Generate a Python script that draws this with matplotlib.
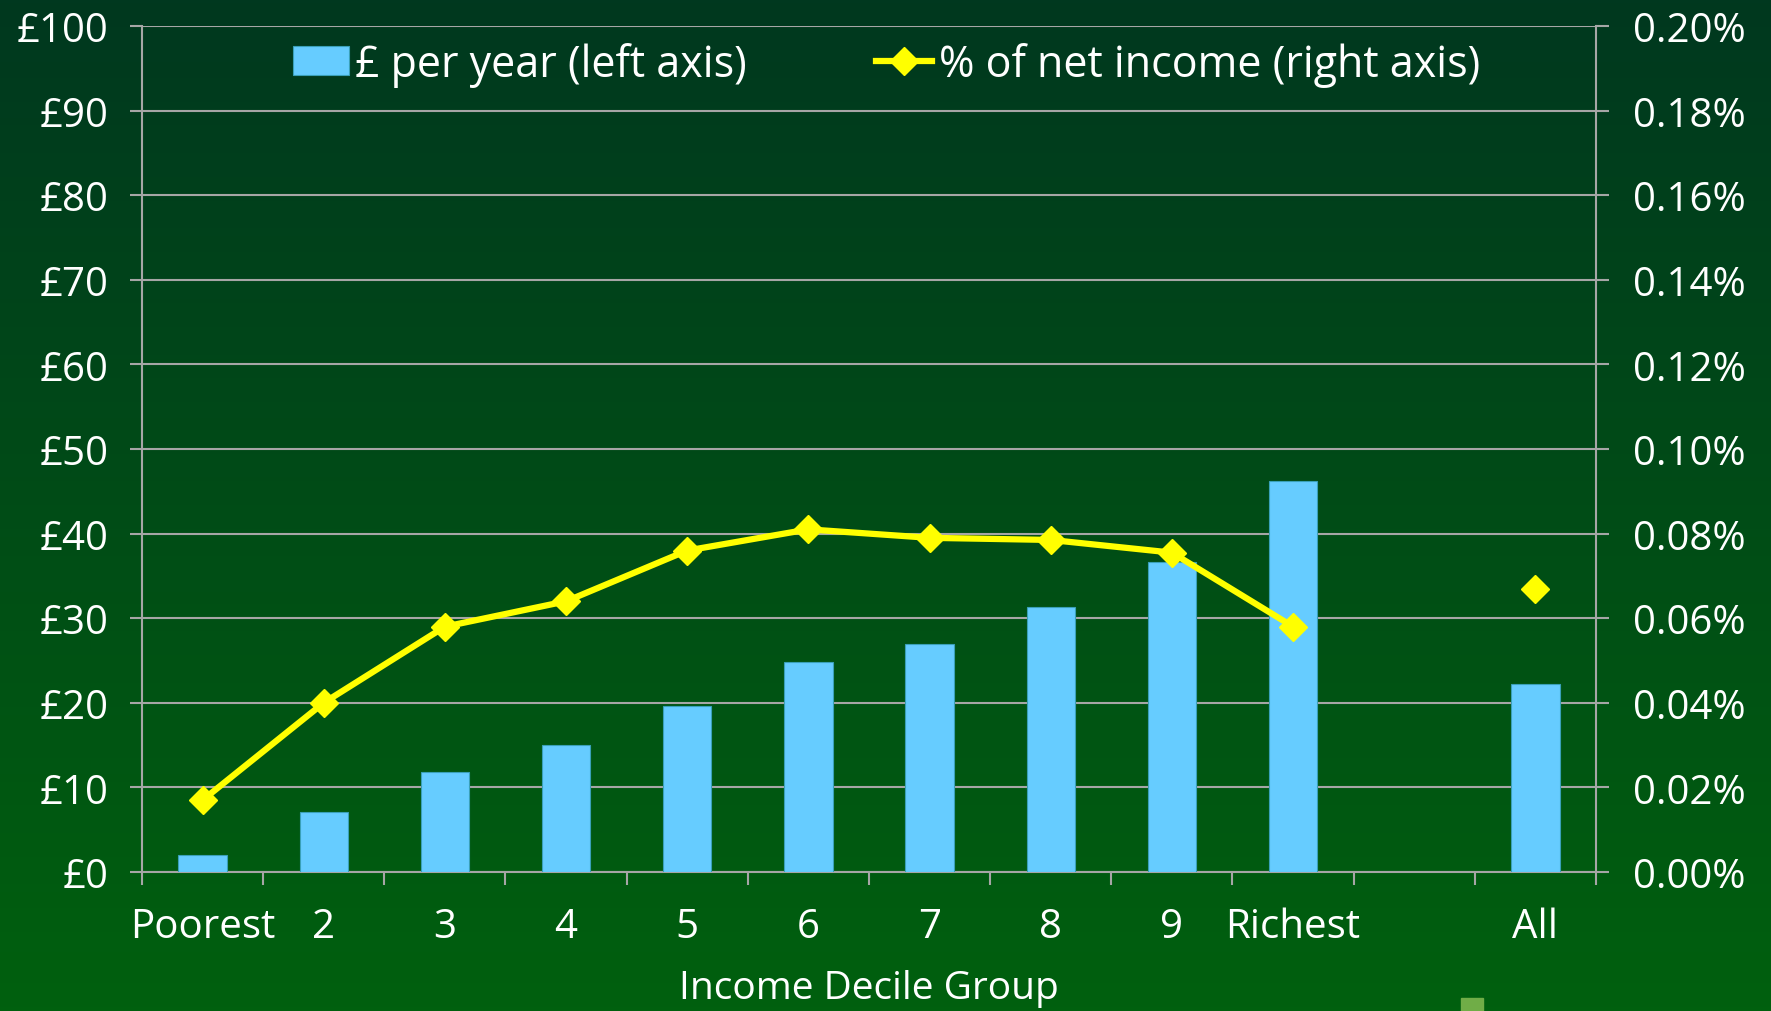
import numpy as np
import matplotlib.pyplot as plt
from matplotlib.patches import Rectangle

plt.rcParams['font.family'] = ['Open Sans', 'DejaVu Sans']

# data
groups = ['Poorest', '2', '3', '4', '5', '6', '7', '8', '9', 'Richest', '', 'All']
per_year = [2.0, 7.1, 11.8, 15.0, 19.6, 24.8, 27.0, 31.3, 36.7, 46.2, np.nan, 22.2]   # £ per year
pct_income = [0.017, 0.040, 0.058, 0.064, 0.076, 0.081, 0.079, 0.0785, 0.0755, 0.058, np.nan, 0.067]  # % of net income

left_ticks = list(range(0, 101, 10))
left_labels = ['£%d' % v for v in left_ticks]
right_ticks = [i * 0.02 for i in range(11)]
right_labels = ['%.2f%%' % v for v in right_ticks]

W, H = 1771, 1012
fig = plt.figure(figsize=(W / 100, H / 100), dpi=100)

# background gradient
bg = fig.add_axes([0, 0, 1, 1], zorder=-10)
top = np.array([0, 56, 31]) / 255
bot = np.array([0, 96, 14]) / 255
t = np.linspace(0, 1, 256)[:, None]
grad = top[None, :] * (1 - t) + bot[None, :] * t
bg.imshow(grad[:, None, :], aspect='auto', extent=[0, 1, 0, 1])
bg.axis('off')
fig.patches.append(Rectangle((1461 / W, 0), 22 / W, 13 / H, transform=fig.transFigure,
                             color='#70AD47', zorder=5))

grid_col = '#a6a6a6'
txt = 'white'
fs = 29

ax = fig.add_axes([142 / W, 1 - 873 / H, (1596 - 142) / W, (873 - 27) / H])
ax.patch.set_alpha(0)
x = np.arange(len(groups))
bars = ax.bar(x, per_year, width=0.4, color='#66CCFF', edgecolor='#3aa0b8', linewidth=0.8,
              zorder=3, label='£ per year (left axis)')
ax.set_ylim(0, 100)
ax.set_xlim(-0.5, len(groups) - 0.5)
ax.set_yticks(left_ticks)
ax.set_yticklabels(left_labels)
ax.yaxis.grid(True, color=grid_col, linewidth=1.5, zorder=0)
ax.set_axisbelow(True)
ax.set_xticks(x)
ax.set_xticklabels(groups)
ax.set_xticks(np.arange(-0.5, len(groups)), minor=True)
ax.tick_params(axis='x', which='major', length=0, pad=25, labelsize=fs, labelcolor=txt)
ax.tick_params(axis='x', which='minor', length=9, width=1.5, color=grid_col)
ax.tick_params(axis='y', length=9, width=1.5, color=grid_col, pad=15, labelsize=fs, labelcolor=txt)
for s in ['left', 'bottom', 'right']:
    ax.spines[s].set_color(grid_col)
    ax.spines[s].set_linewidth(1.5)
ax.spines['top'].set_visible(False)
ax.set_xlabel('Income Decile Group', fontsize=28, color=txt, labelpad=16)

ax2 = ax.twinx()
ax2.set_ylim(0, 0.2)
ax2.set_yticks(right_ticks)
ax2.set_yticklabels(right_labels)
ax2.tick_params(axis='y', length=9, width=1.5, color=grid_col, pad=18, labelsize=fs, labelcolor=txt)
for s in ['left', 'bottom', 'right', 'top']:
    ax2.spines[s].set_visible(False)
line, = ax2.plot(x, pct_income, color='#FFFF00', linewidth=4.5, marker='D', markersize=14,
                 zorder=4, label='% of net income (right axis)')

leg = ax2.legend([bars, line], [bars.get_label(), line.get_label()], ncol=2,
                 loc='center', bbox_to_anchor=(0.512, 0.955), frameon=False,
                 fontsize=31, labelcolor=txt, handlelength=1.3, handletextpad=0.15,
                 columnspacing=3.0, handleheight=0.65)

plt.savefig('out.png', dpi=100)
